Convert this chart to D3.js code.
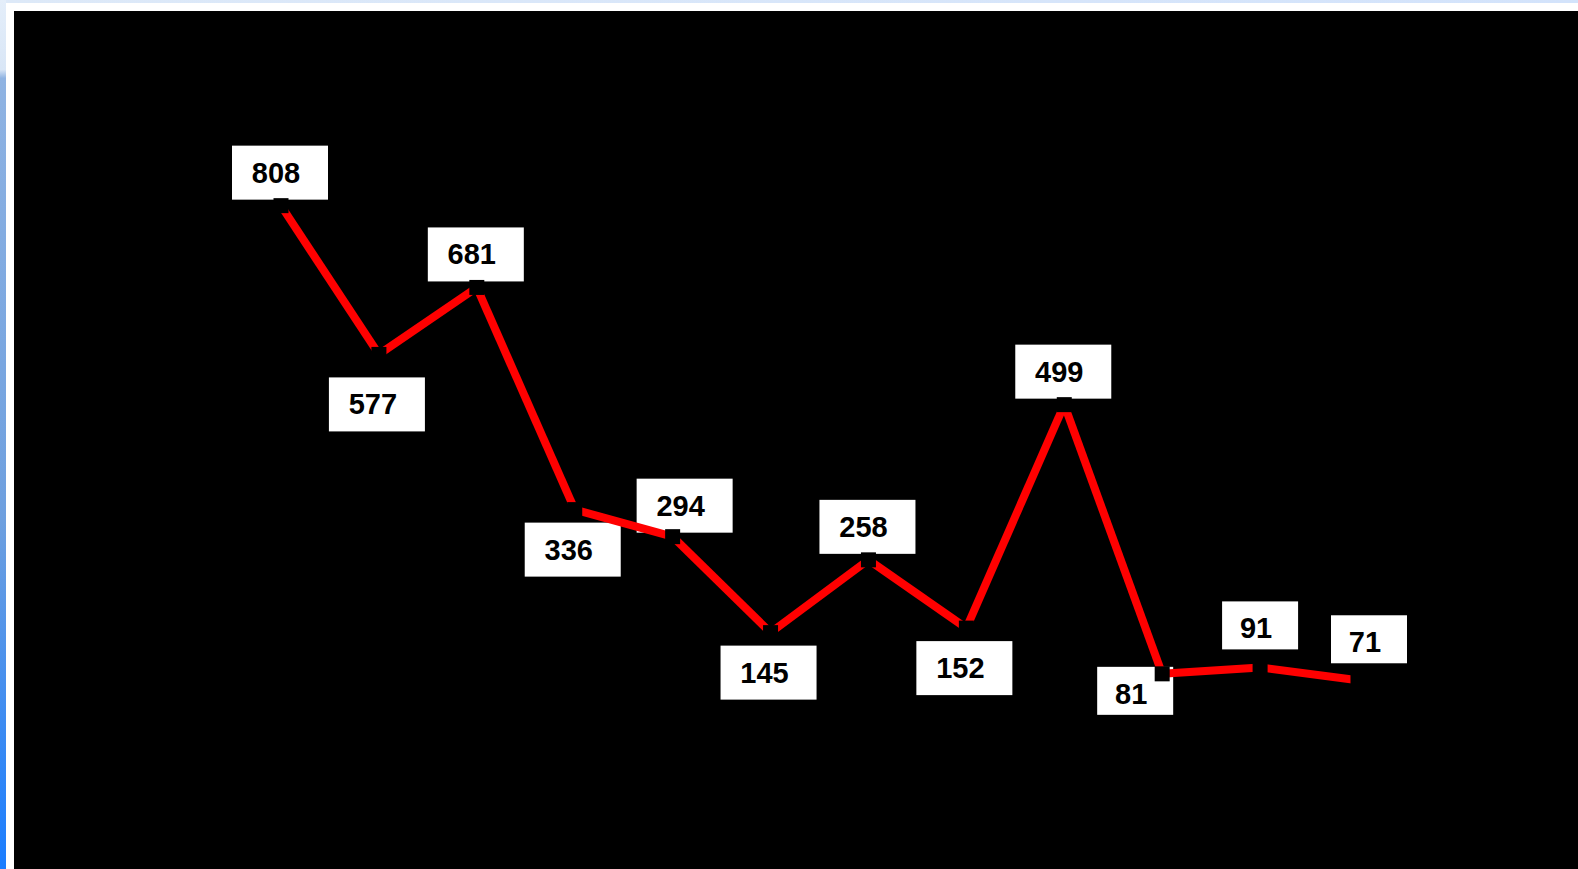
<!DOCTYPE html>
<html>
<head>
<meta charset="utf-8">
<script src="https://cdn.jsdelivr.net/npm/d3@7"></script>
<style>
  html, body { margin: 0; padding: 0; background: #ffffff; overflow: hidden; }
  svg { display: block; }
</style>
</head>
<body>
<svg id="chart" width="1578" height="869"></svg>
<script>
// ---- data ----
const categories = ["1", "2", "3", "4", "5", "6", "7", "8", "9", "10", "11", "12"];
const values = [808, 577, 681, 336, 294, 145, 258, 152, 499, 81, 91, 71];
const labelPlacement = ["above", "belowFar", "above", "below", "aboveRight", "below",
                        "above", "below", "above", "belowLeft", "aboveHigh", "rightHigh"];

// ---- layout ----
const W = 1578, H = 869;
const svg = d3.select("#chart");

// window frame decoration
const defs = svg.append("defs");
const gl = defs.append("linearGradient").attr("id", "leftGrad")
  .attr("x1", 0).attr("y1", 0).attr("x2", 0).attr("y2", 1);
gl.append("stop").attr("offset", "0%").attr("stop-color", "#e4eefa");
gl.append("stop").attr("offset", "8%").attr("stop-color", "#d9e6f6");
gl.append("stop").attr("offset", "9%").attr("stop-color", "#8fb3e2");
gl.append("stop").attr("offset", "60%").attr("stop-color", "#6d9fdf");
gl.append("stop").attr("offset", "100%").attr("stop-color", "#1a7dff");
const gt = defs.append("linearGradient").attr("id", "topGrad")
  .attr("x1", 0).attr("y1", 0).attr("x2", 1).attr("y2", 0);
gt.append("stop").attr("offset", "0%").attr("stop-color", "#dde9f8");
gt.append("stop").attr("offset", "100%").attr("stop-color", "#d3e3fb");

svg.append("rect").attr("x", 0).attr("y", 0).attr("width", W).attr("height", H).attr("fill", "#ffffff");
svg.append("rect").attr("x", 0).attr("y", 0).attr("width", W).attr("height", 3).attr("fill", "url(#topGrad)");
svg.append("rect").attr("x", 0).attr("y", 0).attr("width", 6).attr("height", H).attr("fill", "url(#leftGrad)");
svg.append("rect").attr("x", 14).attr("y", 11).attr("width", W - 14).attr("height", H - 11).attr("fill", "#000000");

// scales
const x = d3.scalePoint().domain(categories).range([281, 1358]);
const y = d3.scaleLinear().domain([0, 1000]).range([726, 82]);

const pts = categories.map((c, i) => ({ c, v: values[i], px: x(c), py: y(values[i]), place: labelPlacement[i] }));

// labels
const placements = {
  above:      { dx: -1,  anchor: "bottom", dy: -6 },
  aboveHigh:  { dx: 0,   anchor: "bottom", dy: -18 },
  aboveRight: { dx: 12,  anchor: "bottom", dy: -4 },
  rightHigh:  { dx: 11,  anchor: "bottom", dy: -17 },
  below:      { dx: -2,  anchor: "top",    dy: 13 },
  belowFar:   { dx: -2,  anchor: "top",    dy: 23 },
  belowLeft:  { dx: -27, anchor: "top",    dy: -7 }
};

const labelG = svg.append("g");
pts.forEach(p => {
  const txt = String(p.v);
  const n = txt.length;
  const bw = 20 * n + 36;
  const bh = 6 * n + 36;
  const pl = placements[p.place];
  const cx = p.px + pl.dx;
  const top = pl.anchor === "bottom" ? p.py + pl.dy - bh : p.py + pl.dy;
  labelG.append("rect")
    .attr("x", cx - bw / 2).attr("y", top)
    .attr("width", bw).attr("height", bh)
    .attr("fill", "#ffffff");
  labelG.append("text")
    .attr("x", cx - 4).attr("y", top + 37)
    .attr("text-anchor", "middle")
    .attr("font-family", "'Liberation Sans', Arial, sans-serif")
    .attr("font-weight", "bold")
    .attr("font-size", 29)
    .attr("fill", "#000000")
    .text(txt);
});

// line (segments)
const line = d3.line().x(d => d.px).y(d => d.py);
svg.append("g").selectAll("path")
  .data(d3.pairs(pts))
  .join("path")
  .attr("d", d => line(d))
  .attr("fill", "none")
  .attr("stroke", "#ff0000")
  .attr("stroke-width", 8)
  .attr("stroke-linecap", "butt");

// markers
const ms = 15;
svg.append("g").selectAll("rect")
  .data(pts)
  .join("rect")
  .attr("x", d => d.px - ms / 2)
  .attr("y", d => d.py - ms / 2)
  .attr("width", ms).attr("height", ms)
  .attr("fill", "#000000");
</script>
</body>
</html>
